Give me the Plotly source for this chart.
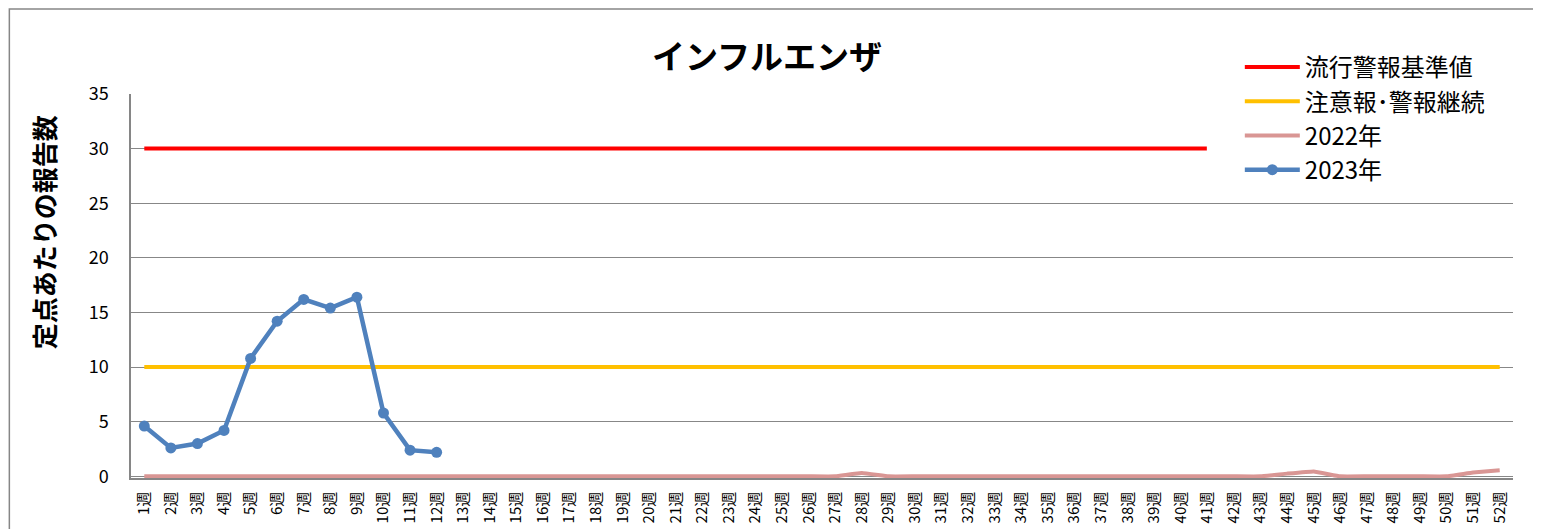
import plotly.graph_objects as go

weeks = [f"{i}週" for i in range(1, 53)]
alert_level = [30] * 52
caution_level = [10] * 52
y2022 = [0]*27 + [0.3] + [0]*15 + [0.25, 0.45] + [0]*5 + [0.35, 0.55]
y2023 = [4.6, 2.6, 3.0, 4.2, 10.8, 14.2, 16.2, 15.4, 16.4, 5.8, 2.4, 2.2]

FONT = "Noto Sans CJK JP"

OFF = 8  # page body margin
W, H = 1533, 521
L, R, T, B = 122.7, 27.7, 86, 51
pw, ph = W - L - R, H - T - B

def px(sx):
    return (sx - OFF - L) / pw

def py(sy):
    return (H - B - (sy - OFF)) / ph

fig = go.Figure()
fig.add_trace(go.Scatter(x=weeks, y=alert_level, mode="lines", name="流行警報基準値",
                         line=dict(color="#FF0000", width=4), legendgroup="a"))
fig.add_trace(go.Scatter(x=weeks, y=caution_level, mode="lines", name="注意報･警報継続",
                         line=dict(color="#FFC000", width=4), legendgroup="b"))
fig.add_trace(go.Scatter(x=weeks, y=y2022, mode="lines", name="2022年",
                         line=dict(color="#D99694", width=4, shape="spline", smoothing=0.2),
                         legendgroup="c"))
fig.add_trace(go.Scatter(x=weeks[:len(y2023)], y=y2023, mode="lines+markers", name="2023年",
                         line=dict(color="#4F81BD", width=4.5),
                         marker=dict(color="#4F81BD", size=11), legendgroup="d"))

fig.update_layout(
    width=W, height=H,
    margin=dict(l=L, r=R, t=T, b=B, autoexpand=False),
    paper_bgcolor="white", plot_bgcolor="white",
    font=dict(family=FONT, color="black"),
    title=dict(text="<b>インフルエンザ</b>", font=dict(size=33, family=FONT, color="black"),
               x=px(767), xref="paper", xanchor="center",
               y=1 - (57 - OFF) / H, yref="container", yanchor="middle"),
    showlegend=True,
    legend=dict(x=px(1240), y=py(45), xanchor="left", yanchor="top",
                bgcolor="rgba(0,0,0,0)", borderwidth=0, font=dict(size=24, family=FONT),
                itemwidth=55, traceorder="grouped", tracegroupgap=0),
    xaxis=dict(type="category", range=[-0.5, 51.5], tickangle=-90,
               tickfont=dict(size=15, family=FONT), showgrid=False,
               showline=True, linecolor="#868686", linewidth=1.5,
               ticks="", ticklabelstandoff=6, automargin=False,
               layer="below traces"),
    yaxis=dict(range=[-0.15, 35], tickvals=[0, 5, 10, 15, 20, 25, 30, 35],
               tickfont=dict(size=18, family=FONT),
               showgrid=True, gridcolor="#878787", gridwidth=1,
               showline=True, linecolor="#868686", linewidth=1.5,
               ticks="", ticklabelstandoff=17,
               zeroline=False, automargin=False, layer="below traces"),
    annotations=[dict(text="<b>定点あたりの報告数</b>", textangle=-90,
                      font=dict(size=26, family=FONT, color="black"),
                      xref="paper", yref="paper", x=px(43), y=py(232),
                      xanchor="center", yanchor="middle", showarrow=False)],
    shapes=[
        dict(type="rect", xref="paper", yref="paper",
             x0=px(1207), x1=px(1545), y0=py(190), y1=py(40),
             line=dict(width=0), fillcolor="white", layer="above"),
        dict(type="rect", xref="paper", yref="paper",
             x0=px(OFF + 1), x1=px(1560), y0=py(560), y1=py(OFF + 1),
             line=dict(color="#868686", width=1.5), fillcolor="rgba(0,0,0,0)",
             layer="below"),
    ],
)

fig.write_html("out.html")
